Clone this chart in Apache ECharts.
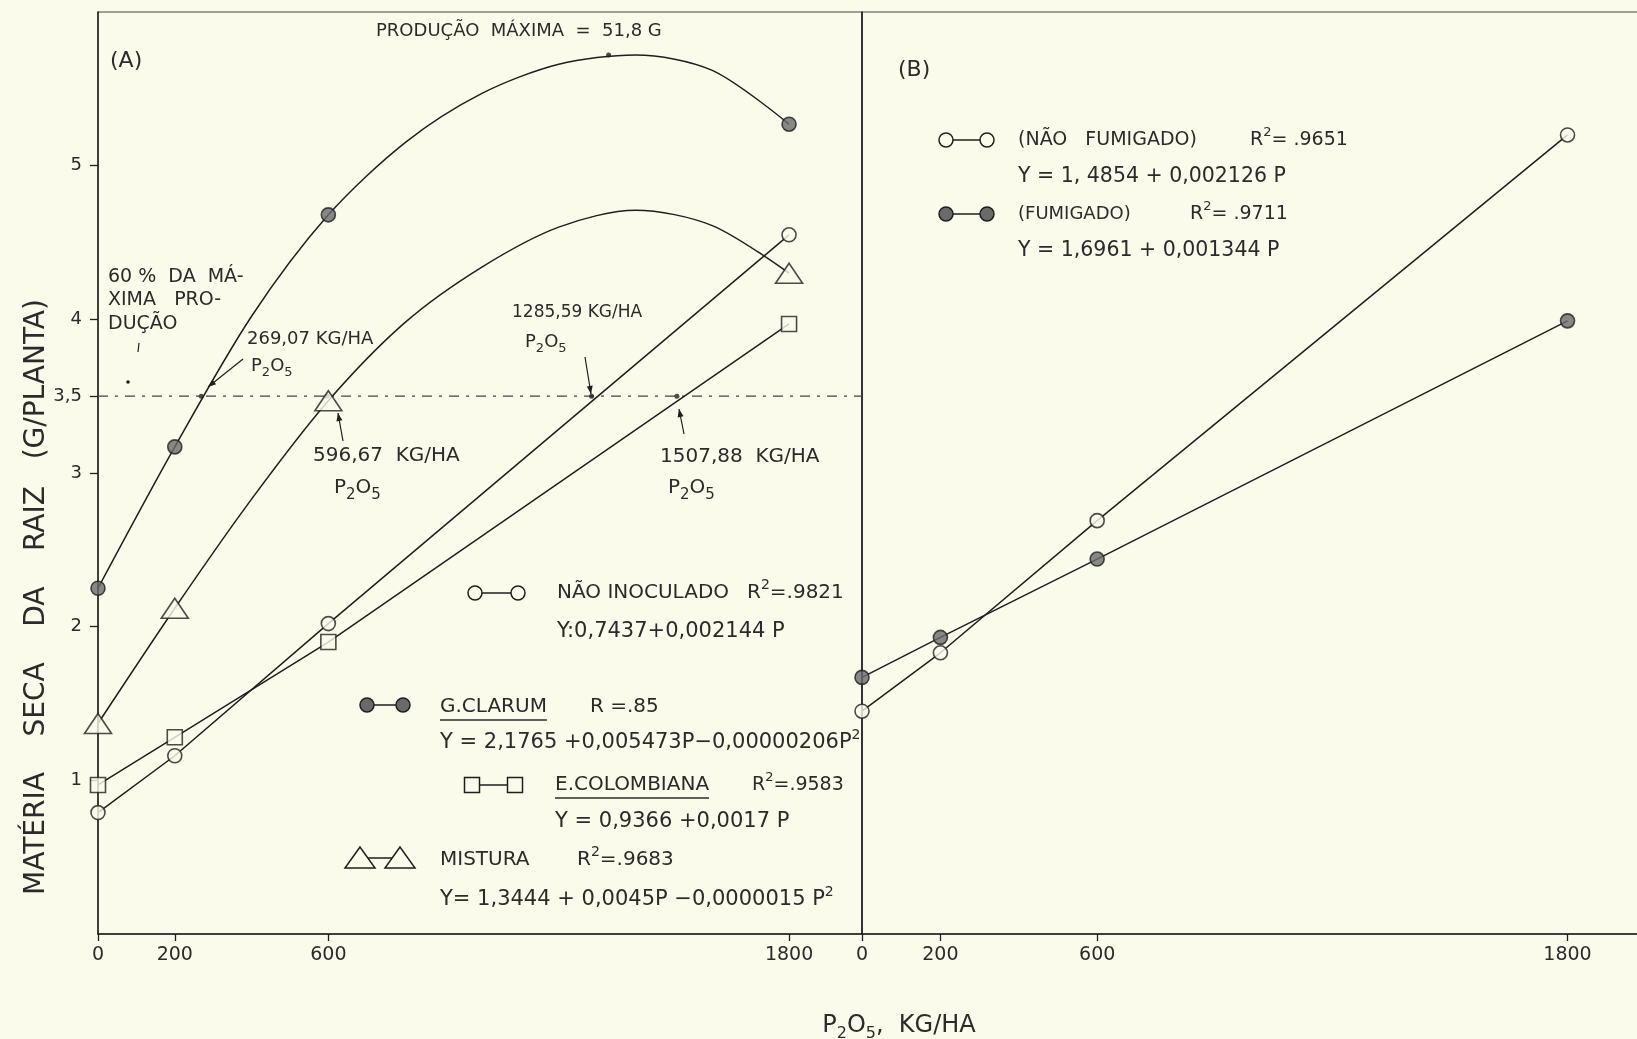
<!DOCTYPE html>
<html>
<head>
<meta charset="utf-8">
<script src="https://cdn.jsdelivr.net/npm/echarts@6/dist/echarts.min.js"></script>
<style>
html,body{margin:0;padding:0;background:#fbfbec;}
#c{width:1637px;height:1039px;}
</style>
</head>
<body>
<div id="c"></div>
<script>
// ---------------- DATA ----------------
const doses = [0, 200, 600, 1800];                       // P2O5, kg/ha
// Panel A – observed means
const naoInoculado = [0.79, 1.16, 2.02, 4.55];
const gClarum      = [2.25, 3.17, 4.68, 5.27];
const eColombiana  = [0.97, 1.28, 1.90, 3.97];
const mistura      = [1.37, 2.12, 3.47, 4.30];
// Panel A – fitted curves
const curveP        = [0, 200, 400, 600, 800, 1000, 1200, 1400, 1600, 1800];
const gClarumCurveY = [2.25, 3.17, 4.02, 4.68, 5.15, 5.47, 5.66, 5.72, 5.62, 5.27];
const misturaCurveY = [1.37, 2.12, 2.83, 3.47, 3.98, 4.34, 4.60, 4.71, 4.61, 4.30];
// Panel A – reference level (60% of maximum) and its crossings
const refLevel = 3.5;
const refDoses = [269.07, 596.67, 1285.59, 1507.88];
const maxPoint = [1330, 5.72];
// Panel B
const naoFumigado = [1.45, 1.83, 2.69, 5.20];
const fumigado    = [1.67, 1.93, 2.44, 3.99];
// Tick labels
const xTickValues = [0, 200, 600, 1800];
const xTickLabels = ['0', '200', '600', '1800'];
const yTickValues = [1, 2, 3, 3.5, 4, 5];
const yTickLabels = ['1', '2', '3', '3,5', '4', '5'];

// ---------------- STYLE ----------------
const INK = '#1f1f1f';
const TXT = '#2b2b2b';
const BG = '#fbfbec';
const FILL = '#6a6a6a';
const FONT = '"DejaVu Sans", sans-serif';

const zip = (xs, ys) => xs.map((x, i) => [x, ys[i]]);
const chart = echarts.init(document.getElementById('c'), null, {renderer: 'canvas'});

const openItem = {color: BG, borderColor: INK, borderWidth: 1.6};
const fillItem = {color: FILL, borderColor: INK, borderWidth: 1.6};

function lineSeries(name, data, gi, smooth, extra) {
  return Object.assign({
    name, type: 'line', xAxisIndex: gi, yAxisIndex: gi, data,
    showSymbol: false, smooth: smooth || false, silent: true, z: 2,
    lineStyle: {color: INK, width: 1.5}
  }, extra || {});
}
function markSeries(name, data, gi, symbol, size, item) {
  return {name, type: 'scatter', xAxisIndex: gi, yAxisIndex: gi, data,
    symbol, symbolSize: size, itemStyle: item, silent: true, z: 5};
}

function xAxisCfg(gi) {
  return {
    type: 'value', gridIndex: gi, min: 0, max: 1990,
    axisLine: {show: true, lineStyle: {color: INK, width: 1.5}},
    splitLine: {show: false},
    axisTick: {show: true, customValues: xTickValues, length: 7, lineStyle: {color: INK, width: 1.3}},
    axisLabel: {show: true, customValues: xTickValues, margin: 12,
      formatter: v => xTickLabels[xTickValues.indexOf(v)],
      fontSize: 19, color: TXT, fontFamily: FONT}
  };
}

// ---------------- GRAPHIC HELPERS (legends / annotations) ----------------
function richFor(size) {
  const s = Math.round(size * 0.68);
  return {
    sup: {fontSize: s, lineHeight: s, verticalAlign: 'top', fill: TXT, fontFamily: FONT},
    sub: {fontSize: s + 1, lineHeight: s, verticalAlign: 'bottom', fill: TXT, fontFamily: FONT}
  };
}
function T(x, y, text, size, extra) {
  return Object.assign({
    type: 'text', x, y, silent: true, z: 10,
    style: {text, fontSize: size, fontFamily: FONT, fill: TXT, lineHeight: Math.round(size * 1.45),
      verticalAlign: 'middle', align: 'left', rich: richFor(size)}
  }, extra || {});
}
const mctx = document.createElement('canvas').getContext('2d');
function textW(s, size) { mctx.font = size + 'px "DejaVu Sans"'; return mctx.measureText(s).width; }
function underline(x, y, s, size) {
  return {type: 'line', silent: true, z: 10,
    shape: {x1: x, y1: y, x2: x + textW(s, size), y2: y},
    style: {stroke: TXT, lineWidth: 1.3}};
}
function sym(kind, x, y) {
  if (kind === 'circle') return {type: 'circle', z: 11, silent: true, shape: {cx: x, cy: y, r: 7}, style: {fill: BG, stroke: INK, lineWidth: 1.5}};
  if (kind === 'filled') return {type: 'circle', z: 11, silent: true, shape: {cx: x, cy: y, r: 7}, style: {fill: FILL, stroke: INK, lineWidth: 1.5}};
  if (kind === 'rect') return {type: 'rect', z: 11, silent: true, shape: {x: x - 7.5, y: y - 7.5, width: 15, height: 15}, style: {fill: BG, stroke: INK, lineWidth: 1.5}};
  return {type: 'polygon', z: 11, silent: true, shape: {points: [[x, y - 11], [x - 15, y + 10], [x + 15, y + 10]]}, style: {fill: BG, stroke: INK, lineWidth: 1.5}};
}
function legendPair(kind, x1, x2, y) {
  return [
    {type: 'line', z: 10, silent: true, shape: {x1, y1: y, x2, y2: y}, style: {stroke: INK, lineWidth: 1.5}},
    sym(kind, x1, y), sym(kind, x2, y)
  ];
}
function arrow(x1, y1, x2, y2) {
  const dx = x2 - x1, dy = y2 - y1, L = Math.hypot(dx, dy);
  const ux = dx / L, uy = dy / L, nx = -uy, ny = ux;
  return [
    {type: 'line', z: 10, silent: true, shape: {x1, y1, x2, y2}, style: {stroke: INK, lineWidth: 1.2}},
    {type: 'polygon', z: 10, silent: true, shape: {points: [[x2, y2],
      [x2 - 8 * ux + 3 * nx, y2 - 8 * uy + 3 * ny], [x2 - 8 * ux - 3 * nx, y2 - 8 * uy - 3 * ny]]},
      style: {fill: INK}}
  ];
}

const LN = 20;   // legend names
const LF = 21;   // legend formulas
const yTitle = 'MATÉRIA    SECA    DA    RAIZ   (G/PLANTA)';
const graphic = [].concat(
  // axis titles
  [{type: 'text', x: 37, y: 597, rotation: Math.PI / 2, silent: true, z: 10,
    style: {text: yTitle, fontSize: 28, fontFamily: FONT, fill: TXT, align: 'center', verticalAlign: 'middle'}},
   {type: 'text', x: 899, y: 1026, silent: true, z: 10,
    style: {text: 'P{sub|2}O{sub|5},  KG/HA', fontSize: 24, fontFamily: FONT, fill: TXT, align: 'center', verticalAlign: 'middle', lineHeight: 32,
      rich: {sub: {fontSize: 16, lineHeight: 14, verticalAlign: 'bottom', fill: TXT, fontFamily: FONT}}}}],
  // panel labels and annotations
  [T(110, 61, '(A)', 22), T(898, 70, '(B)', 22),
   T(376, 31, 'PRODUÇÃO  MÁXIMA  =  51,8 G', 18),
   T(108, 277, '60 %  DA  MÁ-', 19), T(108, 300, 'XIMA   PRO-', 19), T(108, 324, 'DUÇÃO', 19),
   T(247, 339, '269,07 KG/HA', 18), T(251, 366, 'P{sub|2}O{sub|5}', 18),
   T(313, 456, '596,67  KG/HA', 20), T(334, 488, 'P{sub|2}O{sub|5}', 20),
   T(512, 313, '1285,59 KG/HA', 17), T(525, 342, 'P{sub|2}O{sub|5}', 18),
   T(660, 457, '1507,88  KG/HA', 20), T(668, 488, 'P{sub|2}O{sub|5}', 20)],
  arrow(243, 359, 208, 387), arrow(343, 441, 338, 413),
  arrow(585, 357, 591, 394), arrow(684, 434, 679, 409),
  // stray pen marks near the 60% note
  [{type: 'line', z: 10, silent: true, shape: {x1: 139, y1: 343, x2: 138, y2: 352}, style: {stroke: INK, lineWidth: 1.2}},
   {type: 'circle', z: 10, silent: true, shape: {cx: 128, cy: 382, r: 1.8}, style: {fill: INK}}],
  // legend panel A
  legendPair('circle', 475, 518, 593),
  [T(557, 593, 'NÃO INOCULADO', LN), T(747, 593, 'R{sup|2}=.9821', LN),
   T(557, 632, 'Y:0,7437+0,002144 P', LF)],
  legendPair('filled', 367, 403, 705),
  [T(440, 707, 'G.CLARUM', LN), underline(440, 720, 'G.CLARUM', LN), T(590, 707, 'R =.85', LN),
   T(440, 743, 'Y = 2,1765 +0,005473P−0,00000206P{sup|2}', LF)],
  legendPair('rect', 472, 515, 785),
  [T(555, 785, 'E.COLOMBIANA', LN), underline(555, 798, 'E.COLOMBIANA', LN), T(752, 785, 'R{sup|2}=.9583', 19),
   T(555, 822, 'Y = 0,9366 +0,0017 P', LF)],
  legendPair('triangle', 360, 400, 858),
  [T(440, 860, 'MISTURA', LN), T(577, 860, 'R{sup|2}=.9683', LN),
   T(440, 900, 'Y= 1,3444 + 0,0045P −0,0000015 P{sup|2}', LF)],
  // legend panel B
  legendPair('circle', 946, 987, 140),
  [T(1018, 140, '(NÃO   FUMIGADO)', 19), T(1250, 140, 'R{sup|2}= .9651', 19),
   T(1018, 177, 'Y = 1, 4854 + 0,002126 P', 20.5)],
  legendPair('filled', 946, 987, 214),
  [T(1018, 214, '(FUMIGADO)', 18), T(1190, 214, 'R{sup|2}= .9711', 19),
   T(1018, 251, 'Y = 1,6961 + 0,001344 P', 20.5)]
);

const option = {
  backgroundColor: BG,
  animation: false,
  grid: [
    {left: 98, top: 12, width: 764, height: 922, show: true, borderColor: '#444', borderWidth: 1,
     backgroundColor: 'transparent', outerBoundsMode: 'none', containLabel: false},
    {left: 862, top: 12, width: 780, height: 922, show: true, borderColor: '#444', borderWidth: 1,
     backgroundColor: 'transparent', outerBoundsMode: 'none', containLabel: false}
  ],
  xAxis: [xAxisCfg(0), xAxisCfg(1)],
  yAxis: [
    {type: 'value', gridIndex: 0, min: 0, max: 6,
     axisLine: {show: true, lineStyle: {color: INK, width: 1.5}},
     splitLine: {show: false},
     axisTick: {show: true, customValues: yTickValues, length: 8, lineStyle: {color: INK, width: 1.3}},
     axisLabel: {show: true, customValues: yTickValues, margin: 16,
       formatter: v => yTickLabels[yTickValues.indexOf(v)],
       fontSize: 18, color: TXT, fontFamily: FONT}},
    {type: 'value', gridIndex: 1, min: 0, max: 6,
     axisLine: {show: true, lineStyle: {color: INK, width: 1.5}},
     splitLine: {show: false}, axisTick: {show: false}, axisLabel: {show: false}}
  ],
  series: [
    // Panel A lines
    lineSeries('ref', [[0, refLevel], [1990, refLevel]], 0, false,
      {lineStyle: {color: '#444', width: 1.2, type: [10, 7, 3, 7]}, z: 1}),
    lineSeries('naoInoculadoLine', zip(doses, naoInoculado), 0),
    lineSeries('eColombianaLine', zip(doses, eColombiana), 0),
    lineSeries('gClarumCurve', zip(curveP, gClarumCurveY), 0, 0.3),
    lineSeries('misturaCurve', zip(curveP, misturaCurveY), 0, 0.3),
    // Panel A dots
    markSeries('refDots', refDoses.map(d => [d, refLevel]).concat([maxPoint]), 0, 'circle', 5, {color: INK}),
    markSeries('Não inoculado', zip(doses, naoInoculado), 0, 'circle', 14, openItem),
    markSeries('G. clarum', zip(doses, gClarum), 0, 'circle', 14, fillItem),
    markSeries('E. colombiana', zip(doses, eColombiana), 0, 'rect', 15, openItem),
    markSeries('Mistura', zip(doses, mistura), 0, 'triangle', [27, 20], openItem),
    // Panel B
    lineSeries('naoFumigadoLine', zip(doses, naoFumigado), 1),
    lineSeries('fumigadoLine', zip(doses, fumigado), 1),
    markSeries('Não fumigado', zip(doses, naoFumigado), 1, 'circle', 14, openItem),
    markSeries('Fumigado', zip(doses, fumigado), 1, 'circle', 14, fillItem)
  ],
  graphic: graphic
};
chart.setOption(option);
</script>
</body>
</html>
